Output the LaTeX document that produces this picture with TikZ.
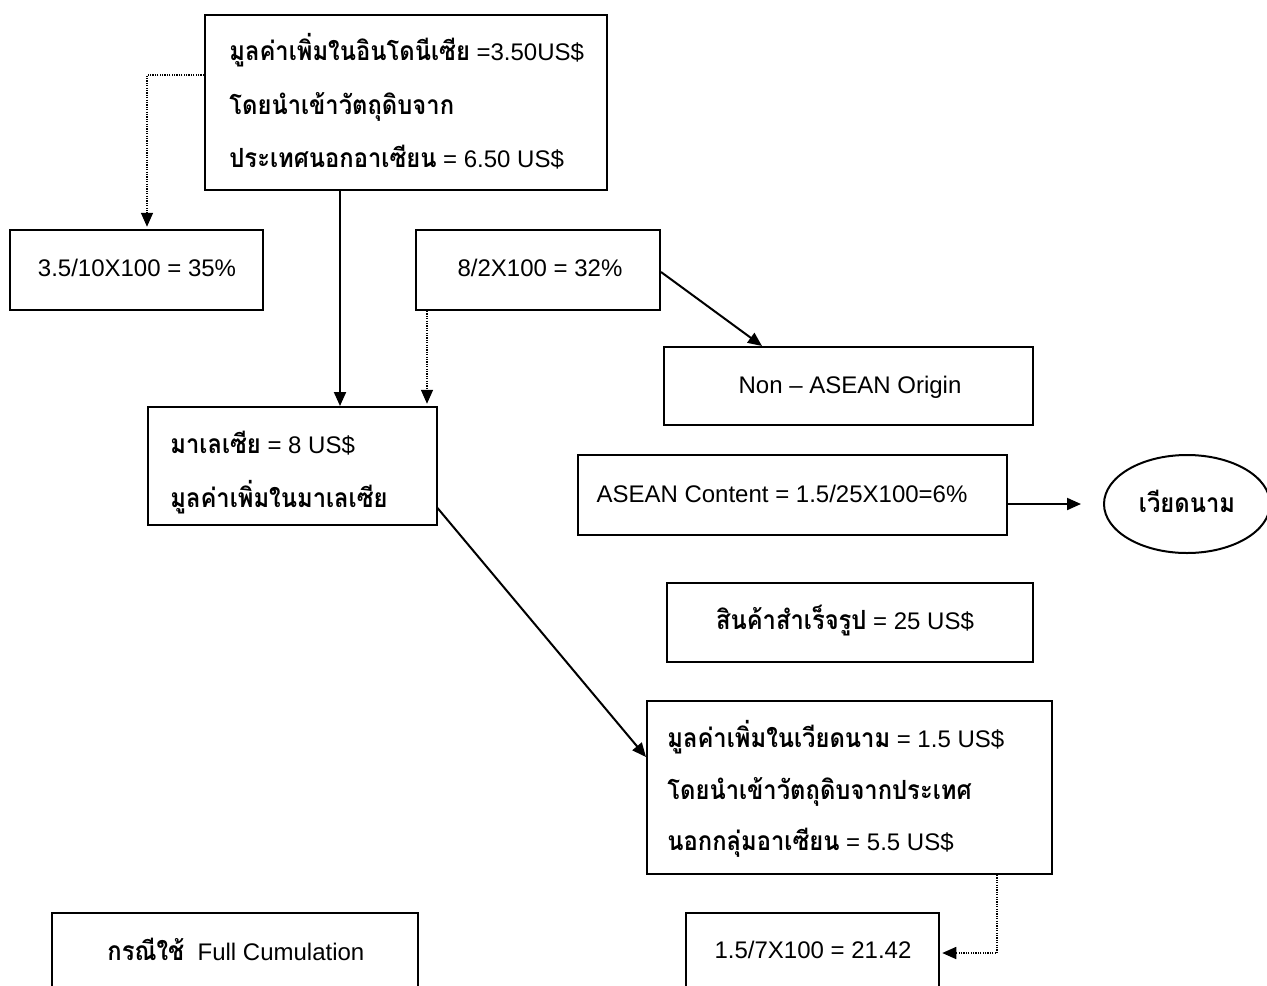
\documentclass[tikz,border=0pt]{standalone}
\usepackage{fontspec}
\setmainfont{Liberation Sans}
\newfontfamily\thaifont[Script=Thai,Scale=1.1,FakeStretch=0.9]{Loma}
\newcommand\thx[1]{{\thaifont\bfseries #1}}
\usetikzlibrary{arrows.meta,shapes.geometric}

\begin{document}
\begin{tikzpicture}[x=0.5pt,y=-0.5pt,
  box/.style={draw, line width=1pt, rectangle, inner sep=0pt},
  txt/.style={inner sep=0pt, font=\fontsize{12}{14}\selectfont},
  arr/.style={line width=1pt, -{Triangle[length=7pt,width=6pt]}},
  dotarr/.style={line width=0.8pt, dash pattern=on 0.6pt off 0.6pt,
    -{Triangle[length=7pt,width=6pt,line width=0.8pt,sep]}},
]
\clip (0,0) rectangle (1267,985);
\fill[white] (0,0) rectangle (1267,985);

% boxes
\node[box, minimum width=201pt, minimum height=87.5pt] (A) at (406,102.5) {};
\node[box, minimum width=126.5pt, minimum height=40pt] (B) at (136.5,270) {};
\node[box, minimum width=122pt, minimum height=40pt] (C) at (538,270) {};
\node[box, minimum width=184.5pt, minimum height=39pt] (D) at (848.5,386) {};
\node[box, minimum width=144.5pt, minimum height=59pt] (E) at (292,466) {};
\node[box, minimum width=214.5pt, minimum height=40pt] (F) at (792,495) {};
\node[draw, line width=1pt, ellipse, minimum width=83pt, minimum height=49pt, inner sep=0pt] (G) at (1187,504) {};
\node[box, minimum width=183pt, minimum height=39.5pt] (H) at (850,622.5) {};
\node[box, minimum width=202.5pt, minimum height=86.5pt] (I) at (849.5,787.5) {};
\node[box, minimum width=126.5pt, minimum height=60pt] (J) at (812.5,973) {};
\node[box, minimum width=183pt, minimum height=60pt] (K) at (235,973) {};

% texts
\node[txt, anchor=base west] (A1) at (229,60) {\thx{มูลค่าเพิ่มในอินโดนีเซีย} =3.50US\$};
\node[txt, anchor=base west] (A2) at (229,114) {\thx{โดยนำเข้าวัตถุดิบจาก}};
\node[txt, anchor=base west] (A3) at (229,167) {\thx{ประเทศนอกอาเซียน} = 6.50 US\$};
\node[txt, anchor=base] (B1) at (137,276) {3.5/10X100 = 35\%};
\node[txt, anchor=base] (C1) at (540,276) {8/2X100 = 32\%};
\node[txt, anchor=base] (D1) at (850,393) {Non -- ASEAN Origin};
\node[txt, anchor=base west] (E1) at (170,453) {\thx{มาเลเซีย} = 8 US\$};
\node[txt, anchor=base west] (E2) at (170,507) {\thx{มูลค่าเพิ่มในมาเลเซีย}};
\node[txt, anchor=base] (F1) at (782,502) {ASEAN Content = 1.5/25X100=6\%};
\node[txt, anchor=base] (G1) at (1187,512) {\thx{เวียดนาม}};
\node[txt, anchor=base] (H1) at (845,629) {\thx{สินค้าสำเร็จรูป} = 25 US\$};
\node[txt, anchor=base west] (I1) at (667,747) {\thx{มูลค่าเพิ่มในเวียดนาม} = 1.5 US\$};
\node[txt, anchor=base west] (I2) at (667,799) {\thx{โดยนำเข้าวัตถุดิบจากประเทศ}};
\node[txt, anchor=base west] (I3) at (667,850) {\thx{นอกกลุ่มอาเซียน} = 5.5 US\$};
\node[txt, anchor=base] (J1) at (813,958) {1.5/7X100 = 21.42};
\node[txt, anchor=base west] (K1) at (107,960) {\thx{กรณีใช้}\ \ Full Cumulation};

% connectors
\draw[dotarr] (A.west |- 0,75) -| (147,0 |- B.north);
\draw[arr] (340,0 |- A.south) -- (340,0 |- E.north);
\draw[dotarr] (427,0 |- C.south) -- (427,0 |- E.north);
\draw[arr] (C.east |- 0,272) -- (762,0 |- D.north);
\draw[arr] (E.east |- 0,508) -- (I.west |- 0,757);
\draw[arr, shorten >=11pt] (F.east |- G.west) -- (G.west);
\draw[dotarr] (997,0 |- I.south) |- (J.east |- 0,953);
\end{tikzpicture}
\end{document}
